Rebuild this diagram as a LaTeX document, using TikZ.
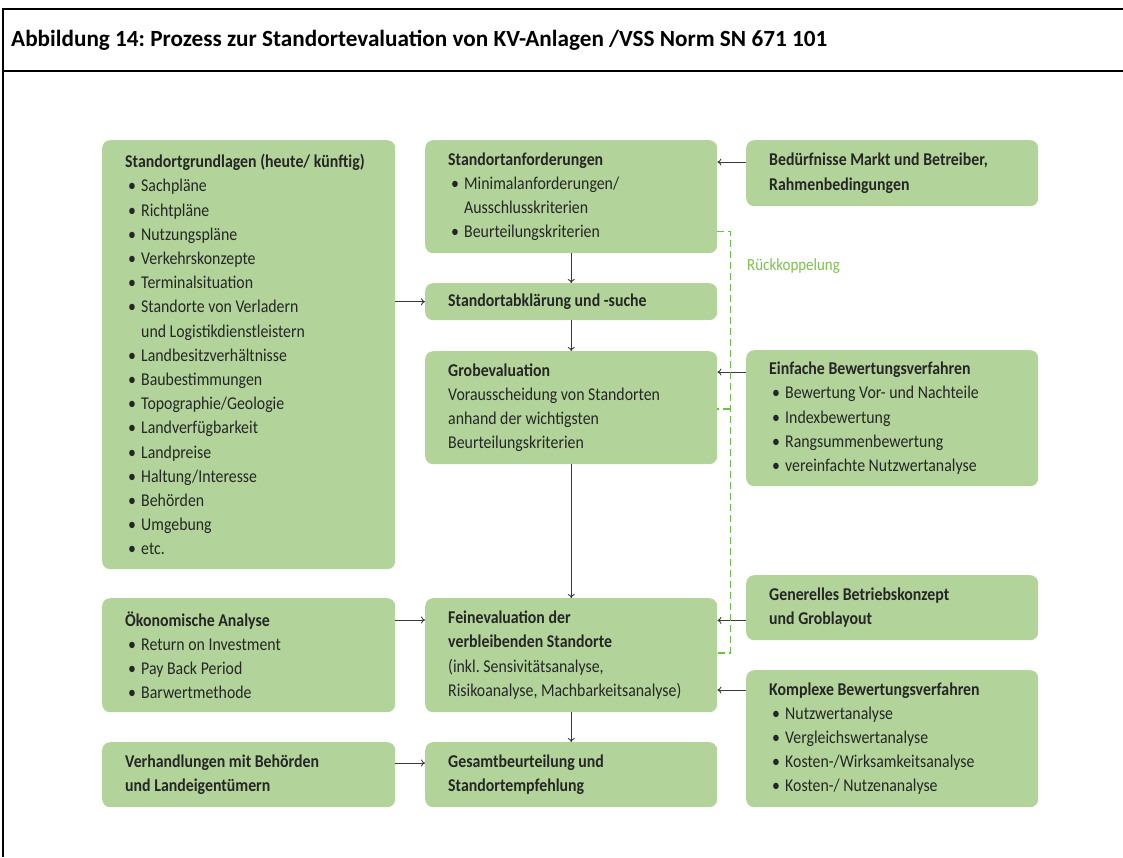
\documentclass[tikz,border=0pt]{standalone}
\usepackage{fontspec}
\setmainfont{Carlito}
\newfontfamily\boxfont[FakeStretch=0.88]{Carlito}
\frenchspacing
\usetikzlibrary{calc,arrows.meta}
\definecolor{boxgreen}{HTML}{B2D49A}
\definecolor{fbgreen}{HTML}{6CBF4A}
\definecolor{fbtext}{HTML}{7CC04E}
\definecolor{txt}{HTML}{262626}
\definecolor{lnk}{HTML}{3A3A3A}
% bullet item and continuation indent
\newcommand\bul{\hspace*{3pt}\makebox[13pt][l]{\textbullet}}
\newcommand\cont{\hspace*{16pt}}
\tikzset{
  box/.style={rectangle, rounded corners=8pt, fill=boxgreen, text=txt,
    anchor=north west, align=flush left, inner xsep=23pt, inner ysep=0pt,
    font=\boxfont\fontsize{18}{24.2}\selectfont},
  arr/.style={draw=lnk, line width=0.9pt, -{To[length=4pt,width=7pt]}},
  fb/.style={draw=fbgreen, line width=1.2pt, dash pattern=on 7pt off 4pt},
  frame/.style={draw=black, line width=2pt},
}
\begin{document}
\begin{tikzpicture}[x=1pt,y=-1pt]
\useasboundingbox (0,0) rectangle (1123,857);

% outer frame and title rule
\draw[frame] (3,857) -- (3,9) -- (1123,9);
\draw[frame] (3,71) -- (1123,71);
\node[anchor=west, font=\bfseries\fontsize{23.2}{26}\selectfont, text=black, inner sep=0pt] (title) at (11,40)
  {Abbildung 14: Prozess zur Standortevaluation von KV-Anlagen /VSS Norm SN 671 101};

% left column
\node[box, text width=247pt, minimum width=293pt, minimum height=429pt] (grund) at (102,140) {%
  \textbf{Standortgrundlagen (heute/ künftig)}\\
  \bul Sachpläne\\
  \bul Richtpläne\\
  \bul Nutzungspläne\\
  \bul Verkehrskonzepte\\
  \bul Terminalsituation\\
  \bul Standorte von Verladern\\
  \cont und Logistikdienstleistern\\
  \bul Landbesitzverhältnisse\\
  \bul Baubestimmungen\\
  \bul Topographie/Geologie\\
  \bul Landverfügbarkeit\\
  \bul Landpreise\\
  \bul Haltung/Interesse\\
  \bul Behörden\\
  \bul Umgebung\\
  \bul etc.};

\node[box, text width=247pt, minimum width=293pt, minimum height=114pt] (oekon) at (102,598) {%
  \textbf{Ökonomische Analyse}\\
  \bul Return on Investment\\
  \bul Pay Back Period\\
  \bul Barwertmethode};

\node[box, text width=247pt, minimum width=293pt, minimum height=65pt] (verh) at (102,742) {%
  \textbf{Verhandlungen mit Behörden}\\
  \textbf{und Landeigentümern}};

% middle column
\node[box, text width=246pt, minimum width=292pt, minimum height=113pt] (anf) at (425,140) {%
  \textbf{Standortanforderungen}\\
  \bul Minimalanforderungen/\\
  \cont Ausschlusskriterien\\
  \bul Beurteilungskriterien};

\node[box, text width=246pt, minimum width=292pt, minimum height=37pt] (abkl) at (425,283) {%
  \textbf{Standortabklärung und -suche}};

\node[box, text width=246pt, minimum width=292pt, minimum height=113pt] (grob) at (425,351) {%
  \textbf{Grobevaluation}\\
  Vorausscheidung von Standorten\\
  anhand der wichtigsten\\
  Beurteilungskriterien};

\node[box, text width=246pt, minimum width=292pt, minimum height=114pt] (fein) at (425,598) {%
  \textbf{Feinevaluation der}\\
  \textbf{verbleibenden Standorte}\\
  (inkl. Sensivitätsanalyse,\\
  Risikoanalyse, Machbarkeitsanalyse)};

\node[box, text width=246pt, minimum width=292pt, minimum height=65pt] (gesamt) at (425,742) {%
  \textbf{Gesamtbeurteilung und}\\
  \textbf{Standortempfehlung}};

% right column
\node[box, text width=246pt, minimum width=292pt, minimum height=66pt] (bed) at (746,140) {%
  \textbf{Bedürfnisse Markt und Betreiber,}\\
  \textbf{Rahmenbedingungen}};

\node[box, text width=246pt, minimum width=292pt, minimum height=136pt] (einf) at (746,350) {%
  \textbf{Einfache Bewertungsverfahren}\\
  \bul Bewertung Vor- und Nachteile\\
  \bul Indexbewertung\\
  \bul Rangsummenbewertung\\
  \bul vereinfachte Nutzwertanalyse};

\node[box, text width=246pt, minimum width=292pt, minimum height=65pt] (gen) at (746,575) {%
  \textbf{Generelles Betriebskonzept}\\
  \textbf{und Groblayout}};

\node[box, text width=246pt, minimum width=292pt, minimum height=137pt] (kompl) at (746,670) {%
  \textbf{Komplexe Bewertungsverfahren}\\
  \bul Nutzwertanalyse\\
  \bul Vergleichswertanalyse\\
  \bul Kosten-/Wirksamkeitsanalyse\\
  \bul Kosten-/ Nutzenanalyse};

% feedback label
\node[anchor=west, text=fbtext, font=\boxfont\fontsize{17}{20}\selectfont, inner sep=0pt] (rk) at (747,266) {Rückkoppelung};

% main flow
\draw[arr] (anf.south) -- (abkl.north);
\draw[arr] (abkl.south) -- (grob.north);
\draw[arr] (grob.south) -- (fein.north);
\draw[arr] (fein.south) -- (gesamt.north);

% inputs from the left
\draw[arr] (abkl.west -| grund.east) -- (abkl.west);
\coordinate (oekA) at ($(oekon.north east)+(0,22)$);
\draw[arr] (oekA) -- (oekA -| fein.west);
\coordinate (verA) at ($(verh.north east)+(0,21)$);
\draw[arr] (verA) -- (verA -| gesamt.west);

% inputs from the right
\coordinate (bedA) at ($(bed.north west)+(0,22)$);
\draw[arr] (bedA) -- (bedA -| anf.east);
\coordinate (einA) at ($(einf.north west)+(0,22)$);
\draw[arr] (einA) -- (einA -| grob.east);
\coordinate (genA) at ($(gen.south west)+(0,-20)$);
\draw[arr] (genA) -- (genA -| fein.east);
\coordinate (komA) at ($(kompl.north west)+(0,20)$);
\draw[arr] (komA) -- (komA -| fein.east);

% feedback bracket
\coordinate (fbTop) at ($(anf.south east)+(13,-22)$);
\coordinate (fbMid) at ($(grob.north east)+(13,58)$);
\coordinate (fbBot) at ($(fein.north east)+(13,55)$);
\draw[fb] (fbTop -| anf.east) -- (fbTop) -- (fbBot) -- (fbBot -| fein.east);
\draw[fb] (fbMid) -- (fbMid -| grob.east);
\end{tikzpicture}
\end{document}
